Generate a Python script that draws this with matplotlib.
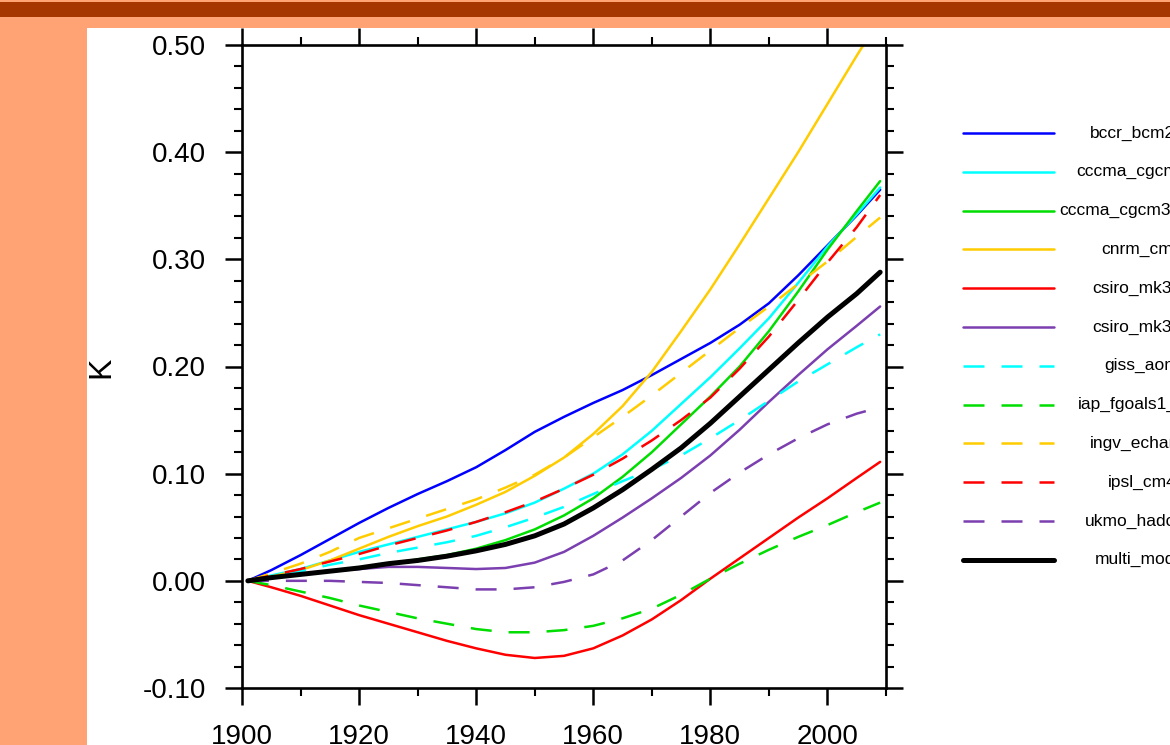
import matplotlib
matplotlib.use("Agg")
import matplotlib.pyplot as plt
from matplotlib.lines import Line2D
from matplotlib.patches import Rectangle
from matplotlib.ticker import MultipleLocator, FormatStrFormatter

plt.rcParams['font.family'] = ['Liberation Sans', 'DejaVu Sans']

years = [1901, 1905, 1910, 1915, 1920, 1925, 1930, 1935, 1940, 1945, 1950, 1955,
         1960, 1965, 1970, 1975, 1980, 1985, 1990, 1995, 2000, 2005, 2009]

bccr_bcm2_0 = [0, 0.010, 0.024, 0.039, 0.054, 0.068, 0.081, 0.093, 0.106, 0.122, 0.139, 0.153,
               0.166, 0.178, 0.192, 0.207, 0.222, 0.239, 0.259, 0.285, 0.313, 0.341, 0.365]
cccma_cgcm3_1 = [0, 0.005, 0.011, 0.019, 0.027, 0.034, 0.041, 0.048, 0.055, 0.063, 0.073, 0.086,
                 0.100, 0.118, 0.140, 0.165, 0.190, 0.217, 0.245, 0.278, 0.312, 0.342, 0.367]
cccma_cgcm3_1_t63 = [0, 0.003, 0.006, 0.009, 0.012, 0.016, 0.020, 0.024, 0.030, 0.038, 0.048, 0.061,
                     0.077, 0.097, 0.120, 0.146, 0.172, 0.200, 0.233, 0.270, 0.309, 0.345, 0.373]
cnrm_cm3 = [0, 0.004, 0.010, 0.019, 0.030, 0.041, 0.051, 0.060, 0.071, 0.083, 0.098, 0.115,
            0.137, 0.163, 0.195, 0.233, 0.272, 0.314, 0.357, 0.400, 0.445, 0.490, 0.525]
csiro_mk3_0 = [0, -0.006, -0.014, -0.023, -0.032, -0.040, -0.048, -0.056, -0.063, -0.069, -0.072, -0.070,
               -0.063, -0.051, -0.036, -0.018, 0.002, 0.021, 0.040, 0.059, 0.077, 0.096, 0.111]
csiro_mk3_5 = [0, 0.003, 0.006, 0.009, 0.011, 0.013, 0.013, 0.012, 0.011, 0.012, 0.017, 0.027,
               0.042, 0.059, 0.077, 0.096, 0.117, 0.141, 0.167, 0.192, 0.216, 0.238, 0.256]
giss_aom = [0, 0.004, 0.009, 0.015, 0.020, 0.026, 0.031, 0.036, 0.042, 0.050, 0.059, 0.069,
            0.081, 0.093, 0.104, 0.117, 0.133, 0.150, 0.168, 0.186, 0.202, 0.218, 0.230]
iap_fgoals1_0_g = [0, -0.004, -0.010, -0.016, -0.023, -0.029, -0.035, -0.040, -0.045, -0.048, -0.048, -0.046,
                   -0.042, -0.035, -0.026, -0.013, 0.002, 0.016, 0.029, 0.041, 0.052, 0.064, 0.073]
ingv_echam4 = [0, 0.007, 0.016, 0.027, 0.040, 0.049, 0.058, 0.067, 0.076, 0.087, 0.099, 0.115,
               0.134, 0.153, 0.173, 0.194, 0.215, 0.236, 0.256, 0.277, 0.298, 0.321, 0.339]
ipsl_cm4 = [0, 0.005, 0.011, 0.018, 0.025, 0.033, 0.040, 0.047, 0.055, 0.064, 0.074, 0.086,
            0.099, 0.114, 0.131, 0.150, 0.171, 0.198, 0.228, 0.262, 0.297, 0.330, 0.360]
ukmo_hadcm3 = [0, 0.000, 0.000, 0.000, -0.001, -0.002, -0.004, -0.006, -0.008, -0.008, -0.006, -0.001,
               0.006, 0.019, 0.038, 0.060, 0.082, 0.101, 0.118, 0.133, 0.146, 0.156, 0.162]
multi_model = [0, 0.003, 0.006, 0.009, 0.012, 0.016, 0.019, 0.023, 0.028, 0.034, 0.042, 0.053,
               0.068, 0.085, 0.104, 0.124, 0.147, 0.172, 0.197, 0.222, 0.246, 0.268, 0.288]

labels = ['bccr_bcm2_0', 'cccma_cgcm3_1', 'cccma_cgcm3_1_t63', 'cnrm_cm3', 'csiro_mk3_0',
          'csiro_mk3_5', 'giss_aom', 'iap_fgoals1_0_g', 'ingv_echam4', 'ipsl_cm4',
          'ukmo_hadcm3', 'multi_model']
series = [bccr_bcm2_0, cccma_cgcm3_1, cccma_cgcm3_1_t63, cnrm_cm3, csiro_mk3_0, csiro_mk3_5,
          giss_aom, iap_fgoals1_0_g, ingv_echam4, ipsl_cm4, ukmo_hadcm3, multi_model]
colors = ['#0000FF', '#00FFFF', '#00DD00', '#FFCC00', '#FF0000', '#7B3FB0',
          '#00FFFF', '#00DD00', '#FFCC00', '#FF0000', '#7B3FB0', '#000000']
styles = ['solid'] * 6 + ['dashed'] * 5 + ['solid']
widths = [1.8] * 11 + [3.6]

W, H = 1170, 745
fig = plt.figure(figsize=(W / 100, H / 100), dpi=100)
fig.patch.set_facecolor('white')

def fx(px):
    return px / W

def fy(py):
    return 1 - py / H

ax = fig.add_axes([fx(242), fy(688), (886 - 242) / W, (688 - 45) / H])

DASH = (8.4, 6.8)
for ys, c, s, lw in zip(series, colors, styles, widths):
    if s == 'dashed':
        ax.plot(years, ys, color=c, lw=lw, dashes=DASH, solid_capstyle='round',
                solid_joinstyle='round')
    else:
        ax.plot(years, ys, color=c, lw=lw, solid_capstyle='round', solid_joinstyle='round')

ax.set_xlim(1900, 2010)
ax.set_ylim(-0.10, 0.50)
ax.xaxis.set_major_locator(MultipleLocator(20))
ax.xaxis.set_minor_locator(MultipleLocator(10))
ax.yaxis.set_major_locator(MultipleLocator(0.1))
ax.yaxis.set_minor_locator(MultipleLocator(0.02))
ax.yaxis.set_major_formatter(FormatStrFormatter('%.2f'))
for sp in ax.spines.values():
    sp.set_linewidth(1.9)
ax.tick_params(which='major', direction='out', length=12, width=1.8,
               top=True, right=True, labelsize=20, pad=14)
ax.tick_params(which='minor', direction='out', length=6, width=1.5,
               top=True, right=True)

fig.text(fx(101), fy(367), 'K', rotation=90, fontsize=23, ha='center', va='center')

# legend
for i, (lab, c, s, lw) in enumerate(zip(labels, colors, styles, widths)):
    yy = fy(133 + i * 38.8)
    ln = Line2D([fx(963), fx(1054)], [yy, yy], color=c, lw=lw, transform=fig.transFigure,
                solid_capstyle='round')
    if s == 'dashed':
        ln.set_dashes(DASH)
    fig.add_artist(ln)
    fig.text(fx(1142), yy, lab, fontsize=12.5, ha='center', va='center')

# slide decorations
fig.add_artist(Rectangle((0, 0), fx(87), 1, transform=fig.transFigure,
                         facecolor='#FFA374', edgecolor='none', zorder=10))
fig.add_artist(Rectangle((0, fy(28)), 1, 28 / H, transform=fig.transFigure,
                         facecolor='#FFA374', edgecolor='none', zorder=10))
fig.add_artist(Rectangle((0, fy(17)), 1, 15 / H, transform=fig.transFigure,
                         facecolor='#A53600', edgecolor='none', zorder=11))

fig.savefig('out.png', dpi=100)
